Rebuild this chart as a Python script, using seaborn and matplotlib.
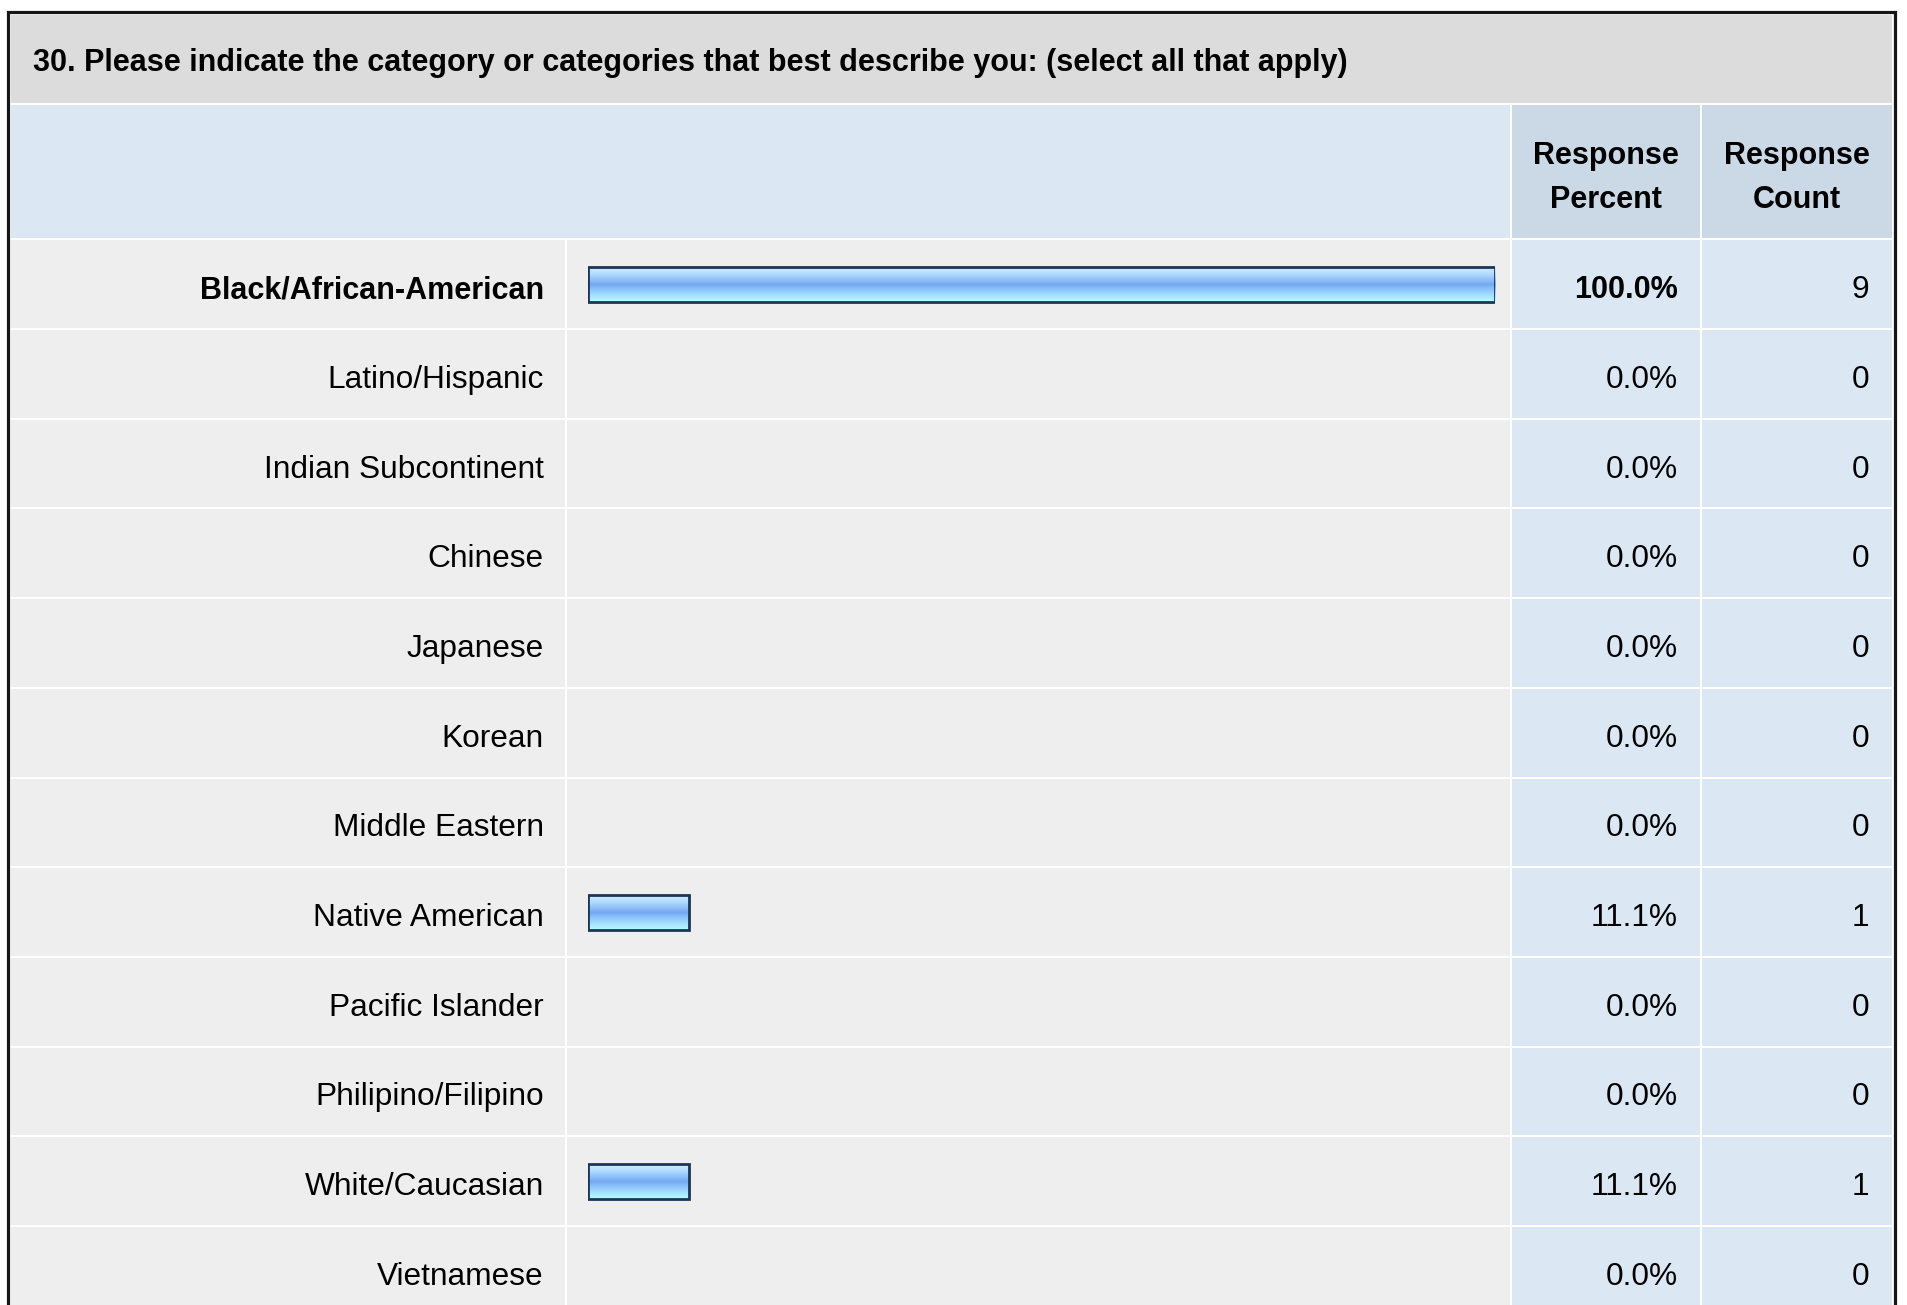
import matplotlib
matplotlib.use("Agg")
import matplotlib.pyplot as plt
from matplotlib.patches import Rectangle
from matplotlib.colors import LinearSegmentedColormap
from matplotlib import transforms
import numpy as np
import pandas as pd
import seaborn as sns

# ---- survey results -------------------------------------------------------
question = ("30. Please indicate the category or categories that best "
            "describe you: (select all that apply)")
categories = ["Black/African-American", "Latino/Hispanic", "Indian Subcontinent",
              "Chinese", "Japanese", "Korean", "Middle Eastern", "Native American",
              "Pacific Islander", "Philipino/Filipino", "White/Caucasian",
              "Vietnamese"]
response_percent = [100.0, 0.0, 0.0, 0.0, 0.0, 0.0, 0.0, 11.1, 0.0, 0.0, 11.1, 0.0]
response_count = [9, 0, 0, 0, 0, 0, 0, 1, 0, 0, 1, 0]
header_percent = "Response\nPercent"
header_count = "Response\nCount"

df = pd.DataFrame({"category": categories, "percent": response_percent,
                   "count": response_count})

# ---- styling --------------------------------------------------------------
sns.set_theme(style="white")
plt.rcParams["font.family"] = ["Liberation Sans", "DejaVu Sans"]
FS_BOLD = 22
FS_REG = 22.8
TITLE_BG = "#dcdcdc"
HEAD_BG = "#dce7f4"
HEAD_DARK = "#cbd8e6"
ROW_BG = "#eeeeee"
NUM_BG = "#dce7f4"
BORDER = "#161616"
BAR_EDGE = "#1c3557"

W, H = 1907, 1305
fig = plt.figure(figsize=(W / 100, H / 100), dpi=100)
fig.patch.set_facecolor("white")

# background layer in pixel units (y downwards)
bg = fig.add_axes([0, 0, 1, 1], zorder=0)
bg.set_xlim(0, W)
bg.set_ylim(H, 0)
bg.axis("off")

# column edges
x_left, x_lab_end = 11, 565
x_bar_start, x_bar_end = 567, 1510
x_pct_start, x_pct_end = 1512, 1700
x_cnt_start, x_cnt_end = 1702, 1892
rows_top, pitch = 239.3, 89.7
n = len(categories)

# outer frame
bg.add_patch(Rectangle((7.5, 11.5), 1887, 1400, facecolor="white",
                       edgecolor=BORDER, linewidth=2.3, zorder=0))
# title band
bg.add_patch(Rectangle((x_left, 15), x_cnt_end - x_left, 88,
                       facecolor=TITLE_BG, edgecolor="none", zorder=1))
bg.text(33, 63, question, fontsize=FS_BOLD, fontweight="bold", color="black",
        ha="left", va="center", zorder=2)
# header band
bg.add_patch(Rectangle((x_left, 105), x_bar_end - x_left, 133,
                       facecolor=HEAD_BG, edgecolor="none", zorder=1))
for xs, xe, txt in [(x_pct_start, x_pct_end, header_percent),
                    (x_cnt_start, x_cnt_end, header_count)]:
    bg.add_patch(Rectangle((xs, 105), xe - xs, 133, facecolor=HEAD_DARK,
                           edgecolor="none", zorder=1))
    bg.text((xs + xe) / 2, 178, txt, fontsize=FS_BOLD, fontweight="bold",
            color="black", ha="center", va="center", linespacing=1.65, zorder=2)

# row cells
for i in range(n):
    y0 = rows_top + i * pitch + 1
    h = pitch - 2
    for xs, xe, col in [(x_left, x_lab_end, ROW_BG),
                        (x_bar_start, x_bar_end, ROW_BG),
                        (x_pct_start, x_pct_end, NUM_BG),
                        (x_cnt_start, x_cnt_end, NUM_BG)]:
        bg.add_patch(Rectangle((xs, y0), xe - xs, h, facecolor=col,
                               edgecolor="none", zorder=1))

# ---- bar layer ------------------------------------------------------------
bar_x0, bar_px = 588, 907
ax_h = n * pitch
ax = fig.add_axes([bar_x0 / W, 1 - (rows_top + ax_h) / H, bar_px / W, ax_h / H],
                  zorder=1)
ax.patch.set_alpha(0)
sns.barplot(data=df, x="percent", y="category", orient="h", width=0.39,
            color="#8cc0f8", edgecolor=BAR_EDGE, linewidth=2.0, ax=ax,
            zorder=3)
ax.set_xlim(0, 100)
ax.set_ylim(n - 0.5, -0.5)

grad_cmap = LinearSegmentedColormap.from_list(
    "bar_gloss",
    [(0.0, "#d2ecff"), (0.18, "#b4dcff"), (0.36, "#8fc2f8"), (0.5, "#74a8f0"),
     (0.64, "#8cc4fa"), (0.82, "#a6e0ff"), (1.0, "#b2ffff")])
grad = np.linspace(0, 1, 64).reshape(-1, 1)
for p in list(ax.patches):
    w = p.get_width()
    if w <= 0:
        p.set_visible(False)
        continue
    x, y, h = p.get_x(), p.get_y(), p.get_height()
    p.set_facecolor("none")
    ax.imshow(grad, extent=(x, x + w, y + h, y), origin="upper", aspect="auto",
              cmap=grad_cmap, interpolation="bilinear", zorder=2.5)
ax.set_xlim(0, 100)
ax.set_ylim(n - 0.5, -0.5)

# small downward nudge so row text sits on the cell's optical centre
nudge = transforms.ScaledTranslation(0, -2.5 / 100, fig.dpi_scale_trans)

# category labels as y tick labels
top_idx = int(np.argmax(response_percent))
ax.set_xlabel("")
ax.set_ylabel("")
ax.set_xticks([])
ax.tick_params(axis="y", length=0, pad=31.7, labelsize=FS_REG, labelcolor="black")
for i, lab in enumerate(ax.get_yticklabels()):
    if i == top_idx:
        lab.set_fontweight("bold")
        lab.set_fontsize(FS_BOLD)
    lab.set_fontfamily(["Liberation Sans", "DejaVu Sans"])
    lab.set_transform(lab.get_transform() + nudge)
for s in ax.spines.values():
    s.set_visible(False)

# numeric columns
tr = transforms.blended_transform_factory(bg.transData, ax.transData) + nudge
for i, (pct, cnt) in enumerate(zip(response_percent, response_count)):
    is_top = i == top_idx
    fig.text(1678, i, f"{pct:.1f}%", transform=tr,
             fontsize=FS_BOLD if is_top else FS_REG,
             fontweight="bold" if is_top else "normal",
             ha="right", va="center_baseline", color="black", zorder=4)
    fig.text(1869, i, f"{cnt}", transform=tr, fontsize=FS_REG,
             ha="right", va="center_baseline", color="black", zorder=4)

fig.savefig("out.png", dpi=100, facecolor="white")
